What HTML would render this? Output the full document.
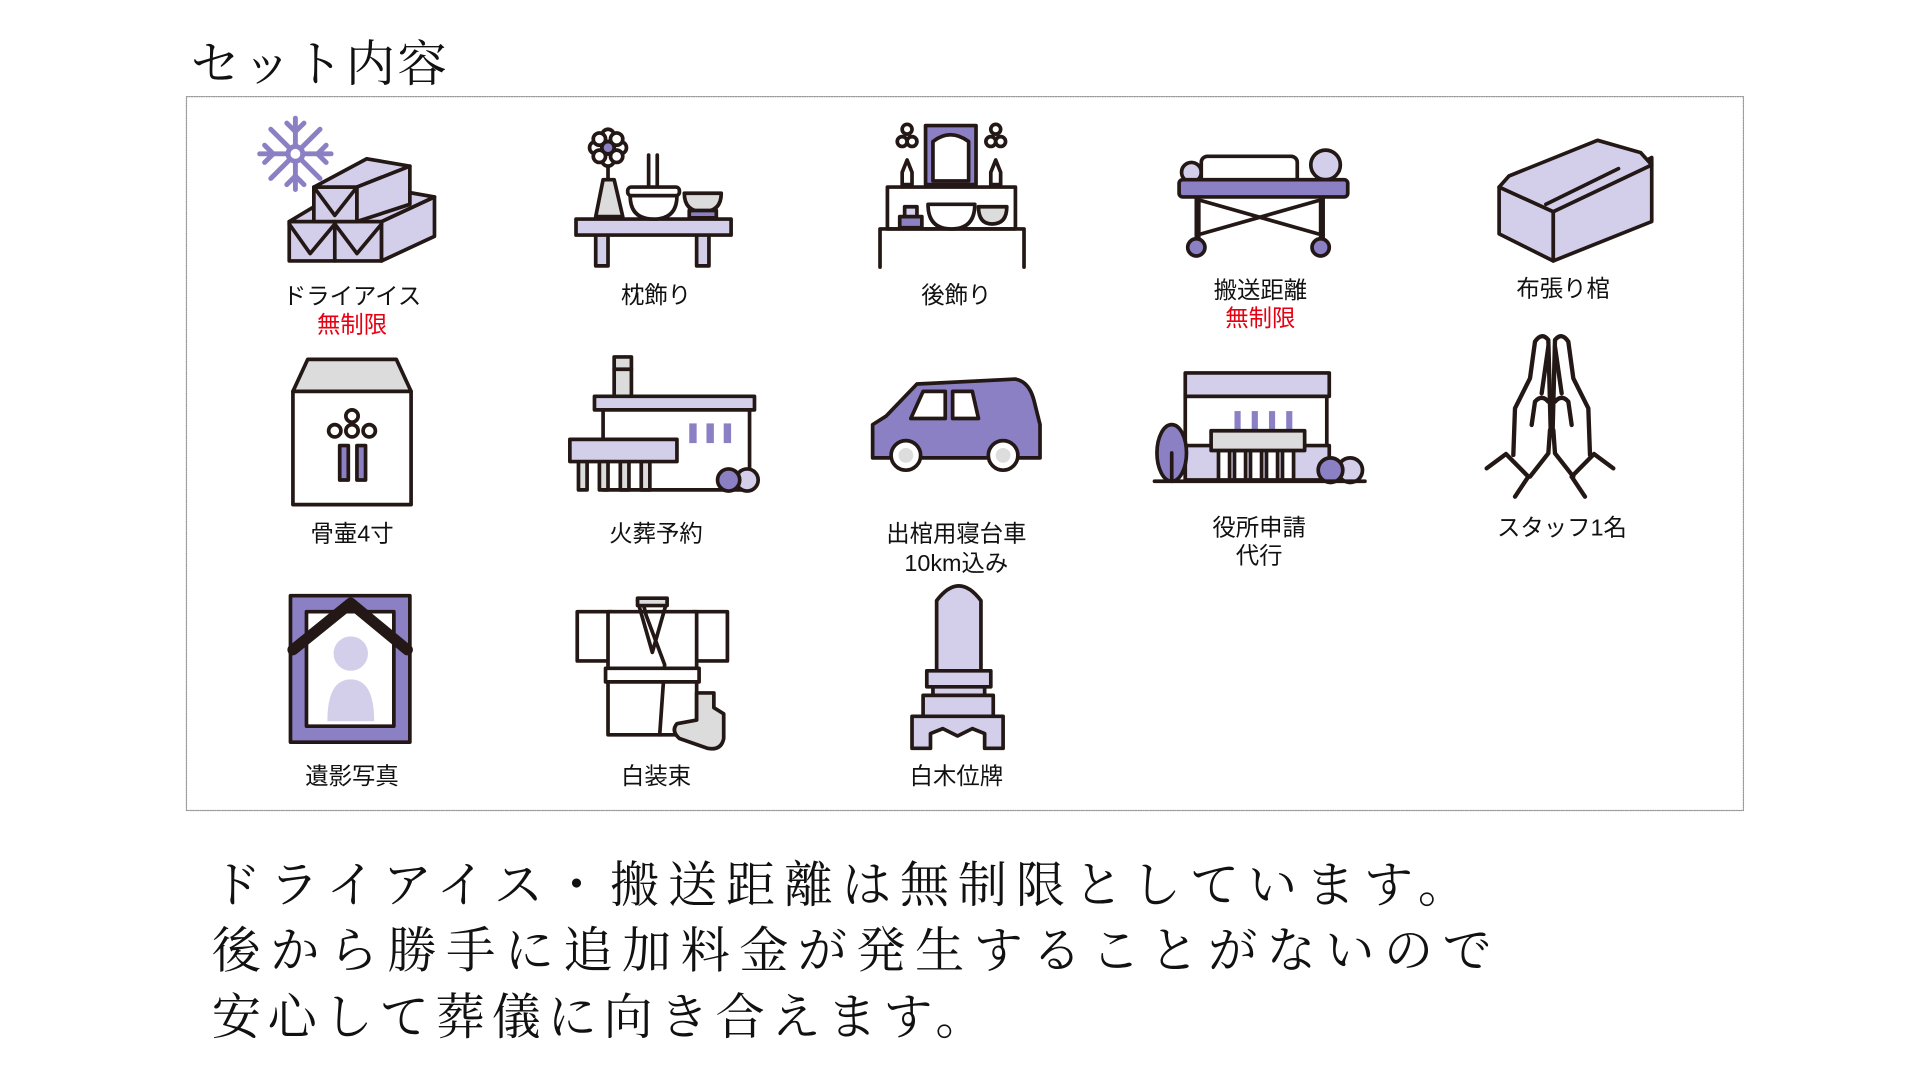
<!DOCTYPE html>
<html><head><meta charset="utf-8"><style>
html,body{margin:0;padding:0;background:#fff;width:1920px;height:1080px;overflow:hidden}
svg{display:block}
.s{font-family:"Liberation Sans","Noto Sans CJK JP",sans-serif}
.m{font-family:"Liberation Serif","Noto Serif CJK SC",serif}
</style></head><body>
<svg width="1920" height="1080" viewBox="0 0 1920 1080" xmlns="http://www.w3.org/2000/svg">
<g transform="scale(1.2308)" stroke-linejoin="round" stroke-linecap="round">
<text class="m" x="155" y="66" font-size="40" fill="#111" letter-spacing="2">セット内容</text>
<rect x="151.5" y="78.5" width="1265" height="580" fill="none" stroke="#999" stroke-width="1" stroke-dasharray="1,1"/>

<!-- 1 dry ice -->
<g stroke="#8b80c4" stroke-width="4" fill="none">
<line x1="240" y1="96" x2="240" y2="154"/><line x1="211" y1="125" x2="269" y2="125"/>
<line x1="220" y1="105" x2="260" y2="145"/><line x1="260" y1="105" x2="220" y2="145"/>
<path d="M233,100 L240,107 L247,100 M233,150 L240,143 L247,150 M215,118 L222,125 L215,132 M265,118 L258,125 L265,132"/>
<circle cx="240" cy="125" r="6" fill="#fff"/>
</g>
<g stroke="#231815" stroke-width="3" fill="#d3cfea">
<polygon points="235,180 310,180 310,212 235,212"/>
<polygon points="310,180 353,160 353,192 310,212"/>
<polygon points="235,180 272,180 310,180 353,160 330,156 255,168"/>
<polygon points="255,152 290,152 290,180 255,180"/>
<polygon points="255,152 298,129 333,135 290,152"/>
<polygon points="290,152 333,135 333,166 290,180"/>
<line x1="272" y1="180" x2="272" y2="212"/>
<polyline fill="none" points="255,152 272,175 290,152"/>
<polyline fill="none" points="235,182 252,206 272,182 290,206 310,182"/>
</g>
<!-- 2 makura -->
<g stroke="#231815" stroke-width="3">
<rect x="484" y="190" width="10" height="26" fill="#d3cfea"/><rect x="566" y="190" width="10" height="26" fill="#d3cfea"/>
<polygon points="468,178 594,178 594,191 468,191" fill="#d3cfea"/>
<polygon points="484,176 490,146 499,146 506,176" fill="#dcdcdc"/>
<line x1="494" y1="134" x2="494" y2="146"/>
<g fill="#fff"><circle cx="494" cy="110" r="5"/><circle cx="494" cy="130" r="5"/><circle cx="484" cy="120" r="5"/><circle cx="504" cy="120" r="5"/><circle cx="487" cy="113" r="5"/><circle cx="501" cy="113" r="5"/><circle cx="487" cy="127" r="5"/><circle cx="501" cy="127" r="5"/></g>
<circle cx="494" cy="120" r="5" fill="#8b80c4"/>
<line x1="527" y1="126" x2="527" y2="152"/><line x1="534" y1="126" x2="534" y2="152"/>
<rect x="510" y="152" width="42" height="7" rx="3" fill="#fff"/>
<path d="M512,159 L550,159 Q550,178 531,178 Q512,178 512,159 Z" fill="#fff"/>
<path d="M556,157 L586,157 Q586,172 571,172 Q556,172 556,157 Z" fill="#dcdcdc"/>
<rect x="560" y="171" width="22" height="6" fill="#8b80c4"/>
</g>
<!-- 3 atokazari -->
<g stroke="#231815" stroke-width="3" fill="none">
<polyline points="715,217 715,186 832,186 832,217"/>
<rect x="721" y="152" width="104" height="34"/>
<rect x="752" y="102" width="41" height="48" fill="#8b80c4"/>
<path d="M758,147 L758,115 Q772,104 787,115 L787,147 Z" fill="#fff"/>
<g fill="#fff"><circle cx="737" cy="105" r="4"/><circle cx="733" cy="115" r="4"/><circle cx="741" cy="115" r="4"/><circle cx="809" cy="105" r="4"/><circle cx="805" cy="115" r="4"/><circle cx="813" cy="115" r="4"/></g>
<path d="M733,150 L733,140 L737,130 L741,140 L741,150 Z" fill="#fff"/>
<path d="M805,150 L805,140 L809,130 L813,140 L813,150 Z" fill="#fff"/>
<rect x="731" y="176" width="18" height="9" fill="#8b80c4"/><rect x="735" y="168" width="10" height="8" fill="#d3cfea"/>
<path d="M754,166 L792,166 Q792,186 773,186 Q754,186 754,166 Z" fill="#fff"/>
<path d="M795,168 L818,168 Q818,182 806,182 Q795,182 795,168 Z" fill="#dcdcdc"/>
</g>
<!-- 4 stretcher -->
<g stroke="#231815" stroke-width="3">
<line x1="973" y1="160" x2="973" y2="196" stroke-width="5"/><line x1="1074" y1="160" x2="1074" y2="196" stroke-width="5"/>
<line x1="976" y1="163" x2="1071" y2="190"/><line x1="1071" y1="163" x2="976" y2="190"/>
<circle cx="972" cy="201" r="7" fill="#8b80c4"/><circle cx="1073" cy="201" r="7" fill="#8b80c4"/>
<circle cx="968" cy="140" r="8" fill="#d3cfea"/>
<circle cx="1077" cy="134" r="12" fill="#d3cfea"/>
<rect x="976" y="127" width="78" height="24" rx="5" fill="#fff"/>
<rect x="958" y="146" width="137" height="14" rx="3" fill="#8b80c4"/>
</g>
<!-- 5 coffin -->
<g stroke="#231815" stroke-width="3" fill="#d3cfea">
<polygon points="1218,152 1262,172 1262,212 1218,190"/>
<polygon points="1262,172 1342,128 1342,180 1262,212"/>
<polygon points="1218,152 1226,143 1298,114 1333,124 1342,134 1262,172"/>
<line x1="1256" y1="166" x2="1315" y2="137"/>
</g>
<!-- 6 urn box -->
<g stroke="#231815" stroke-width="3">
<polygon points="250,292 322,292 334,318 238,318" fill="#dcdcdc"/>
<rect x="238" y="318" width="96" height="92" fill="#fff"/>
<g fill="#fff"><circle cx="286" cy="338" r="5"/><circle cx="272" cy="350" r="5"/><circle cx="300" cy="350" r="5"/><circle cx="286" cy="350" r="5"/></g>
<rect x="276" y="362" width="7" height="28" fill="#8b80c4"/><rect x="290" y="362" width="7" height="28" fill="#8b80c4"/>
</g>
<!-- 7 crematorium -->
<g stroke="#231815" stroke-width="3">
<rect x="499" y="290" width="14" height="33" fill="#dcdcdc"/><line x1="499" y1="300" x2="513" y2="300"/>
<rect x="490" y="332" width="119" height="66" fill="#fff"/>
<rect x="483" y="322" width="130" height="11" fill="#d3cfea"/>
<g fill="#8b80c4" stroke="none"><rect x="560" y="344" width="6" height="16"/><rect x="574" y="344" width="6" height="16"/><rect x="588" y="344" width="6" height="16"/></g>
<g fill="#dcdcdc"><rect x="470" y="374" width="7" height="24"/><rect x="487" y="374" width="7" height="24"/><rect x="504" y="374" width="7" height="24"/><rect x="521" y="374" width="7" height="24"/></g>
<rect x="463" y="357" width="87" height="18" fill="#d3cfea"/>
<circle cx="607" cy="390" r="9" fill="#d3cfea"/><circle cx="592" cy="390" r="9" fill="#8b80c4"/>
</g>
<!-- 8 car -->
<g stroke="#231815" stroke-width="3">
<path d="M709,368 L709,345 L720,338 L745,312 L825,308 Q836,310 840,325 L845,345 L845,372 L709,372 Z" fill="#8b80c4"/>
<path d="M750,318 L768,318 L768,340 L740,340 Z M774,318 L790,318 L795,340 L774,340 Z" fill="#fff"/>
<circle cx="736" cy="370" r="12" fill="#fff"/><circle cx="736" cy="370" r="6" fill="#ddd" stroke="none"/>
<circle cx="815" cy="370" r="12" fill="#fff"/><circle cx="815" cy="370" r="6" fill="#ddd" stroke="none"/>
</g>
<!-- 9 city hall -->
<g stroke="#231815" stroke-width="3">
<rect x="963" y="322" width="115" height="68" fill="#fff"/>
<rect x="963" y="303" width="117" height="19" fill="#d3cfea"/>
<g fill="#8b80c4" stroke="none"><rect x="1003" y="334" width="5" height="16"/><rect x="1017" y="334" width="5" height="16"/><rect x="1031" y="334" width="5" height="16"/><rect x="1045" y="334" width="5" height="16"/></g>
<rect x="963" y="362" width="117" height="28" fill="#d3cfea"/>
<g fill="#fff"><rect x="990" y="366" width="9" height="24"/><rect x="1003" y="366" width="9" height="24"/><rect x="1016" y="366" width="9" height="24"/><rect x="1029" y="366" width="9" height="24"/><rect x="1042" y="366" width="9" height="24"/></g>
<rect x="984" y="350" width="76" height="16" fill="#dcdcdc"/>
<ellipse cx="952" cy="368" rx="12" ry="23" fill="#8b80c4"/><line x1="952" y1="368" x2="952" y2="391"/>
<circle cx="1097" cy="382" r="10" fill="#d3cfea"/><circle cx="1081" cy="382" r="10" fill="#8b80c4"/>
<line x1="938" y1="391" x2="1109" y2="391"/>
</g>
<!-- 11 portrait -->
<g stroke="#231815" stroke-width="3">
<rect x="236" y="484" width="97" height="119" fill="#8b80c4"/>
<rect x="249" y="497" width="71" height="93" fill="#fff"/>
<circle cx="285" cy="531" r="14" fill="#d3cfea" stroke="none"/>
<path d="M266,586 Q266,552 285,552 Q304,552 304,586 Z" fill="#d3cfea" stroke="none"/>
<polyline points="238,528 285,490 331,528" fill="none" stroke-width="9"/>
</g>
<!-- 12 kimono -->
<g stroke="#231815" stroke-width="3">
<rect x="469" y="497" width="28" height="40" fill="#fff"/><rect x="563" y="497" width="28" height="40" fill="#fff"/>
<rect x="494" y="497" width="72" height="100" fill="#fff"/>
<polyline points="518,488 530,530 542,488" fill="none"/>
<polyline points="522,488 525,500 540,540 536,597" fill="none"/>
<rect x="518" y="486" width="24" height="6" fill="#dcdcdc"/>
<rect x="492" y="543" width="76" height="11" fill="#fff"/>
<path d="M566,563 L580,563 L580,575 L588,580 L588,600 Q586,610 575,608 L552,600 Q545,594 550,588 L566,585 Z" fill="#dcdcdc"/>
</g>
<!-- 13 ihai -->
<g stroke="#231815" stroke-width="3" fill="#d3cfea">
<path d="M761,545 L761,488 Q770,476 779,476 Q788,476 797,488 L797,545 Z"/>
<rect x="753" y="545" width="52" height="13"/>
<rect x="758" y="558" width="42" height="7"/>
<rect x="750" y="565" width="57" height="17"/>
<path d="M741,582 L815,582 L815,608 L800,608 L800,596 L790,592 L778,598 L766,592 L756,596 L756,608 L741,608 Z"/>
</g>

<g class="s" font-size="19" fill="#111" text-anchor="middle">
<text x="286" y="247">ドライアイス</text>
<text x="286" y="270" fill="#e60012">無制限</text>
<text x="533" y="246">枕飾り</text>
<text x="777" y="246">後飾り</text>
<text x="1024" y="242">搬送距離</text>
<text x="1024" y="265" fill="#e60012">無制限</text>
<text x="1270" y="241">布張り棺</text>
<text x="286" y="440">骨壷4寸</text>
<text x="533" y="440">火葬予約</text>
<text x="777" y="440">出棺用寝台車</text>
<text x="777" y="464">10km込み</text>
<text x="1023" y="435">役所申請</text>
<text x="1023" y="458">代行</text>
<text x="1269" y="435">スタッフ1名</text>
<text x="286" y="637">遺影写真</text>
<text x="533" y="637">白装束</text>
<text x="777" y="637">白木位牌</text>
</g>
<g class="m" font-size="40" fill="#111">
<text x="172" y="733" textLength="1020">ドライアイス・搬送距離は無制限としています。</text>
<text x="172" y="786" textLength="1040">後から勝手に追加料金が発生することがないので</text>
<text x="172" y="840" textLength="628">安心して葬儀に向き合えます。</text>
</g>
</g>
<g transform="translate(1480,320) scale(0.3333)" stroke="#231815" stroke-width="13" fill="none" stroke-linejoin="round" stroke-linecap="round">
<path d="M100,405 L105,265 L150,175 L165,65 Q185,35 205,60 L212,330"/>
<path d="M330,405 L325,265 L280,175 L265,65 Q245,35 225,60 L218,330"/>
<path d="M155,315 L165,245 Q185,222 205,245 M275,315 L265,245 Q245,222 225,245"/>
<path d="M205,80 L185,220 M225,80 L245,220"/>
<path d="M210,330 L205,400 L150,470 M220,330 L225,400 L280,470"/>
<path d="M20,445 L78,402 L145,470 L105,530 M400,445 L342,402 L275,470 L315,530"/>
</g>
</svg>
</body></html>
